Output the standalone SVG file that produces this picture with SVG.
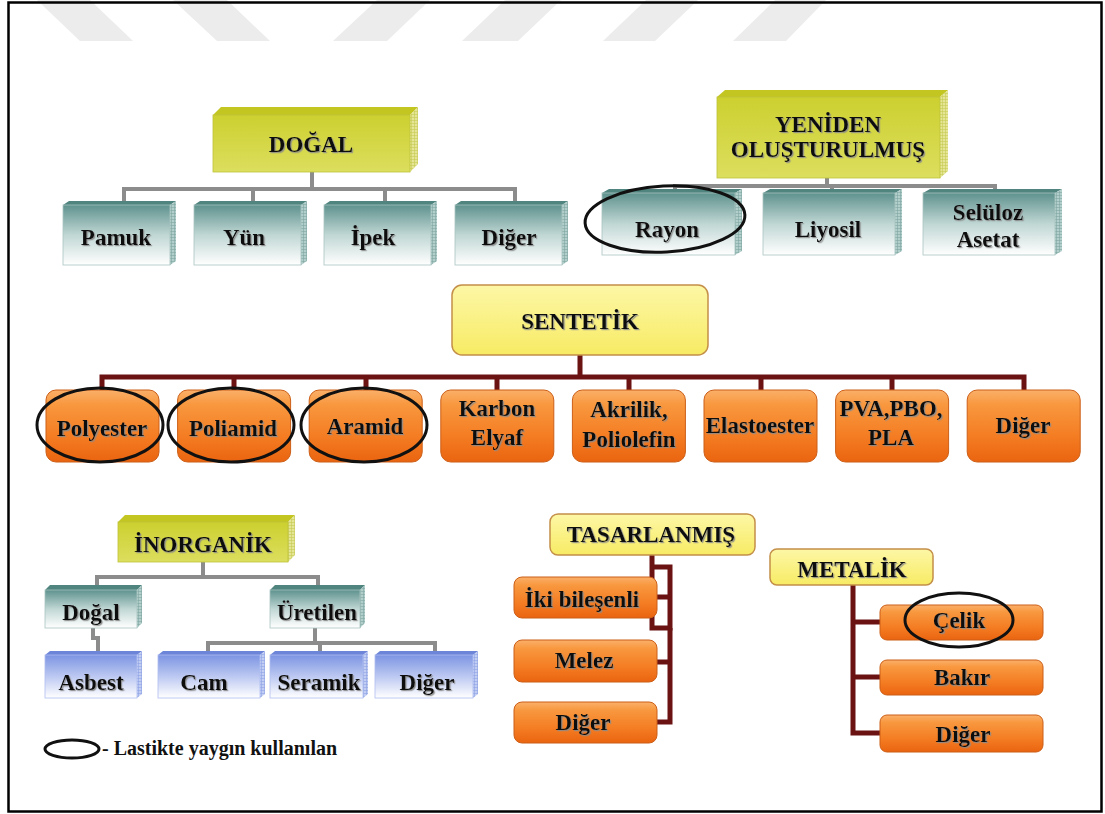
<svg xmlns="http://www.w3.org/2000/svg" width="1105" height="814" viewBox="0 0 1105 814">
<style>
.t{font-family:"Liberation Serif","Times New Roman",serif;font-weight:bold;font-size:23px;fill:#111;text-anchor:middle;filter:url(#sh)}
.lg{font-family:"Liberation Serif","Times New Roman",serif;font-weight:bold;font-size:20px;fill:#111}
.gr{fill:none;stroke:#8c8c8c;stroke-width:4}
.dr{fill:none;stroke:#6b1212;stroke-width:5}
.ring{fill:none;stroke:#111;stroke-width:3}
.yf{fill:url(#gYf);stroke:#bfc23a;stroke-width:0.8}
.yt{fill:#c3c621}
.ys{fill:url(#pY)}
.tf{fill:url(#gTf);stroke:#a9c4c1;stroke-width:0.8}
.tt{fill:#50847f}
.ts{fill:url(#pT)}
.bf{fill:url(#gBf);stroke:#b0bdf0;stroke-width:0.8}
.bt{fill:#6c85d8}
.bs{fill:url(#pB)}
.ob{fill:url(#gO);stroke:#cc5f18;stroke-width:1}
.yb{fill:url(#gY2);stroke:#c48f48;stroke-width:1.5}
.stripe{fill:#ececec}
</style>
<defs>
<filter id="sh" x="-10%" y="-20%" width="125%" height="150%">
<feDropShadow dx="1.2" dy="1.2" stdDeviation="0.5" flood-color="#8a8a8a" flood-opacity="0.9"/>
</filter>
<linearGradient id="gYf" x1="0" y1="0" x2="0" y2="1">
<stop offset="0" stop-color="#cdd02f"/><stop offset="1" stop-color="#dcde5e"/>
</linearGradient>
<linearGradient id="gTf" x1="0" y1="0" x2="0" y2="1">
<stop offset="0" stop-color="#5f928e"/><stop offset="0.5" stop-color="#c0d7d4"/><stop offset="1" stop-color="#ffffff"/>
</linearGradient>
<linearGradient id="gBf" x1="0" y1="0" x2="0" y2="1">
<stop offset="0" stop-color="#7c94e3"/><stop offset="0.55" stop-color="#c3cef3"/><stop offset="1" stop-color="#ffffff"/>
</linearGradient>
<linearGradient id="gO" x1="0" y1="0" x2="0" y2="1">
<stop offset="0" stop-color="#fbb06a"/><stop offset="0.2" stop-color="#f8983f"/><stop offset="0.65" stop-color="#f47c22"/><stop offset="1" stop-color="#ea6410"/>
</linearGradient>
<linearGradient id="gY2" x1="0" y1="0" x2="0" y2="1">
<stop offset="0" stop-color="#fdf7a6"/><stop offset="1" stop-color="#f7eb64"/>
</linearGradient>
<pattern id="pY" width="3" height="3" patternUnits="userSpaceOnUse">
<rect width="3" height="3" fill="#e4e696"/><path d="M0,0.5H3M0.5,0V3" stroke="#c8ca52" stroke-width="0.6"/>
</pattern>
<pattern id="pT" width="3" height="3" patternUnits="userSpaceOnUse">
<rect width="3" height="3" fill="#b3cfcc"/><path d="M0,0.5H3M0.5,0V3" stroke="#7fa6a2" stroke-width="0.6"/>
</pattern>
<pattern id="pB" width="3" height="3" patternUnits="userSpaceOnUse">
<rect width="3" height="3" fill="#c2cdf4"/><path d="M0,0.5H3M0.5,0V3" stroke="#8ea2e4" stroke-width="0.6"/>
</pattern>
</defs>

<rect width="1105" height="814" fill="#ffffff"/>
<g id="watermark">
<polygon class="stripe" points="37,0 90,0 133,41 80,41"/>
<polygon class="stripe" points="173,0 227,0 270,41 217,41"/>
<polygon class="stripe" points="377,0 430,0 387,41 333,41"/>
<polygon class="stripe" points="505,0 561,0 518,41 462,41"/>
<polygon class="stripe" points="646,0 698,0 655,41 603,41"/>
<polygon class="stripe" points="775,0 826,0 786,41 733,41"/>
</g>
<rect id="frame" x="8.5" y="2.5" width="1093" height="809" fill="none" stroke="#000" stroke-width="2.5"/>

<g id="connectors">
<path class="gr" d="M312,172V189M124,203V189H515V203M253,189V203M385,189V203"/>
<path class="gr" d="M827,178V186M675,190V186H995V190M832,186V190"/>
<path class="dr" d="M580,355V377M102,390V377H1024V390M234,377V390M366,377V390M497,377V390M629,377V390M761,377V390M892,377V390"/>
<path class="gr" d="M203,562V577M97,586V577H318V586"/>
<path class="gr" d="M93,628V638H98V651"/>
<path class="gr" d="M315,628V643M208,651V643H435V651M320,643V651"/>
<path class="dr" d="M652,555V628H670V567H652"/>
<path class="dr" d="M670,628V722H657M657,597H670M657,662H670"/>
<path class="dr" d="M853,585V733H880M853,622H880M853,677H880"/>
</g>

<g id="n-dogal">
<polygon class="yt" points="213,115 221,107 418,107 410,115"/>
<polygon class="ys" points="410,115 418,107 418,164 410,172"/>
<rect class="yf" x="213" y="115" width="197" height="57"/>
<text class="t" x="311" y="152">DOĞAL</text>
</g>
<g id="n-pamuk">
<polygon class="tt" points="63,205 69,201 176,201 170,205"/>
<polygon class="ts" points="170,205 176,201 176,261 170,265"/>
<rect class="tf" x="63" y="205" width="107" height="60"/>
<text class="t" x="116" y="245">Pamuk</text>
</g>
<g id="n-yun">
<polygon class="tt" points="194,205 200,201 307,201 301,205"/>
<polygon class="ts" points="301,205 307,201 307,261 301,265"/>
<rect class="tf" x="194" y="205" width="107" height="60"/>
<text class="t" x="244" y="245">Yün</text>
</g>
<g id="n-ipek">
<polygon class="tt" points="324,205 330,201 437,201 431,205"/>
<polygon class="ts" points="431,205 437,201 437,261 431,265"/>
<rect class="tf" x="324" y="205" width="107" height="60"/>
<text class="t" x="373" y="245">İpek</text>
</g>
<g id="n-diger1">
<polygon class="tt" points="455,205 461,201 568,201 562,205"/>
<polygon class="ts" points="562,205 568,201 568,261 562,265"/>
<rect class="tf" x="455" y="205" width="107" height="60"/>
<text class="t" x="509" y="245">Diğer</text>
</g>

<g id="n-yeniden">
<polygon class="yt" points="717,97 725,90 948,90 940,97"/>
<polygon class="ys" points="940,97 948,90 948,171 940,178"/>
<rect class="yf" x="717" y="97" width="223" height="81"/>
<text class="t" x="828" y="132">YENİDEN</text>
<text class="t" x="828" y="157">OLUŞTURULMUŞ</text>
</g>
<g id="n-rayon">
<polygon class="tt" points="602,193 609,189 742,189 735,193"/>
<polygon class="ts" points="735,193 742,189 742,251 735,255"/>
<rect class="tf" x="602" y="193" width="133" height="62"/>
<text class="t" x="667" y="237">Rayon</text>
<ellipse class="ring" cx="665" cy="219" rx="80" ry="33" transform="rotate(-3 665 219)"/>
</g>
<g id="n-liyosil">
<polygon class="tt" points="763,193 770,189 902,189 895,193"/>
<polygon class="ts" points="895,193 902,189 902,251 895,255"/>
<rect class="tf" x="763" y="193" width="132" height="62"/>
<text class="t" x="828" y="237">Liyosil</text>
</g>
<g id="n-seluloz">
<polygon class="tt" points="923,193 930,189 1062,189 1055,193"/>
<polygon class="ts" points="1055,193 1062,189 1062,251 1055,255"/>
<rect class="tf" x="923" y="193" width="132" height="62"/>
<text class="t" x="988" y="220">Selüloz</text>
<text class="t" x="988" y="247">Asetat</text>
</g>

<g id="n-sentetik">
<rect class="yb" x="452" y="285" width="256" height="70" rx="10"/>
<text class="t" x="580" y="329">SENTETİK</text>
</g>
<g id="n-polyester">
<rect class="ob" x="46" y="390" width="113" height="72" rx="10"/>
<text class="t" x="102" y="436">Polyester</text>
<ellipse class="ring" cx="100" cy="425" rx="63" ry="37"/>
</g>
<g id="n-poliamid">
<rect class="ob" x="177.6" y="390" width="113" height="72" rx="10"/>
<text class="t" x="233" y="436">Poliamid</text>
<ellipse class="ring" cx="231" cy="425" rx="63" ry="37"/>
</g>
<g id="n-aramid">
<rect class="ob" x="309.2" y="390" width="113" height="72" rx="10"/>
<text class="t" x="365" y="434">Aramid</text>
<ellipse class="ring" cx="364" cy="425" rx="63" ry="37"/>
</g>
<g id="n-karbon">
<rect class="ob" x="440.8" y="390" width="113" height="72" rx="10"/>
<text class="t" x="497" y="416">Karbon</text>
<text class="t" x="497" y="445">Elyaf</text>
</g>
<g id="n-akrilik">
<rect class="ob" x="572.4" y="390" width="113" height="72" rx="10"/>
<text class="t" x="629" y="417">Akrilik,</text>
<text class="t" x="629" y="447">Poliolefin</text>
</g>
<g id="n-elastoester">
<rect class="ob" x="704" y="390" width="113" height="72" rx="10"/>
<text class="t" x="760" y="433">Elastoester</text>
</g>
<g id="n-pva">
<rect class="ob" x="835.6" y="390" width="113" height="72" rx="10"/>
<text class="t" x="891" y="416">PVA,PBO,</text>
<text class="t" x="891" y="445">PLA</text>
</g>
<g id="n-diger2">
<rect class="ob" x="967.2" y="390" width="113" height="72" rx="10"/>
<text class="t" x="1023" y="433">Diğer</text>
</g>

<g id="n-inorganik">
<polygon class="yt" points="118,522 125,515 295,515 288,522"/>
<polygon class="ys" points="288,522 295,515 295,555 288,562"/>
<rect class="yf" x="118" y="522" width="170" height="40"/>
<text class="t" x="203" y="552">İNORGANİK</text>
</g>
<g id="n-dogal2">
<polygon class="tt" points="45,590 50,585 142,585 137,590"/>
<polygon class="ts" points="137,590 142,585 142,623 137,628"/>
<rect class="tf" x="45" y="590" width="92" height="38"/>
<text class="t" x="91" y="620">Doğal</text>
</g>
<g id="n-uretilen">
<polygon class="tt" points="270,590 275,585 365,585 360,590"/>
<polygon class="ts" points="360,590 365,585 365,623 360,628"/>
<rect class="tf" x="270" y="590" width="90" height="38"/>
<text class="t" x="317" y="620">Üretilen</text>
</g>
<g id="n-asbest">
<polygon class="bt" points="45,655 50,651 142,651 137,655"/>
<polygon class="bs" points="137,655 142,651 142,694 137,698"/>
<rect class="bf" x="45" y="655" width="92" height="43"/>
<text class="t" x="91" y="690">Asbest</text>
</g>
<g id="n-cam">
<polygon class="bt" points="158,655 163,651 265,651 260,655"/>
<polygon class="bs" points="260,655 265,651 265,694 260,698"/>
<rect class="bf" x="158" y="655" width="102" height="43"/>
<text class="t" x="204" y="690">Cam</text>
</g>
<g id="n-seramik">
<polygon class="bt" points="270,655 275,651 368,651 363,655"/>
<polygon class="bs" points="363,655 368,651 368,694 363,698"/>
<rect class="bf" x="270" y="655" width="93" height="43"/>
<text class="t" x="319" y="690">Seramik</text>
</g>
<g id="n-diger3">
<polygon class="bt" points="375,655 380,651 478,651 473,655"/>
<polygon class="bs" points="473,655 478,651 478,694 473,698"/>
<rect class="bf" x="375" y="655" width="98" height="43"/>
<text class="t" x="427" y="690">Diğer</text>
</g>

<g id="n-tasarlanmis">
<rect class="yb" x="550" y="514" width="205" height="41" rx="8"/>
<text class="t" x="651" y="542">TASARLANMIŞ</text>
</g>
<g id="n-iki">
<rect class="ob" x="514" y="577" width="143" height="41" rx="8"/>
<text class="t" x="582" y="607">İki bileşenli</text>
</g>
<g id="n-melez">
<rect class="ob" x="514" y="640" width="143" height="42" rx="8"/>
<text class="t" x="584" y="668">Melez</text>
</g>
<g id="n-diger4">
<rect class="ob" x="514" y="702" width="143" height="41" rx="8"/>
<text class="t" x="583" y="730">Diğer</text>
</g>

<g id="n-metalik">
<rect class="yb" x="770" y="549" width="163" height="36" rx="7"/>
<text class="t" x="852" y="577">METALİK</text>
</g>
<g id="n-celik">
<rect class="ob" x="880" y="605" width="163" height="35" rx="7"/>
<text class="t" x="959" y="628">Çelik</text>
<ellipse class="ring" cx="959" cy="620" rx="54" ry="27"/>
</g>
<g id="n-bakir">
<rect class="ob" x="880" y="660" width="163" height="35" rx="7"/>
<text class="t" x="962" y="685">Bakır</text>
</g>
<g id="n-diger5">
<rect class="ob" x="880" y="715" width="163" height="37" rx="7"/>
<text class="t" x="963" y="742">Diğer</text>
</g>

<g id="legend">
<ellipse class="ring" cx="72" cy="749" rx="27" ry="9"/>
<text class="lg" x="102" y="755">- Lastikte yaygın kullanılan</text>
</g>
</svg>
